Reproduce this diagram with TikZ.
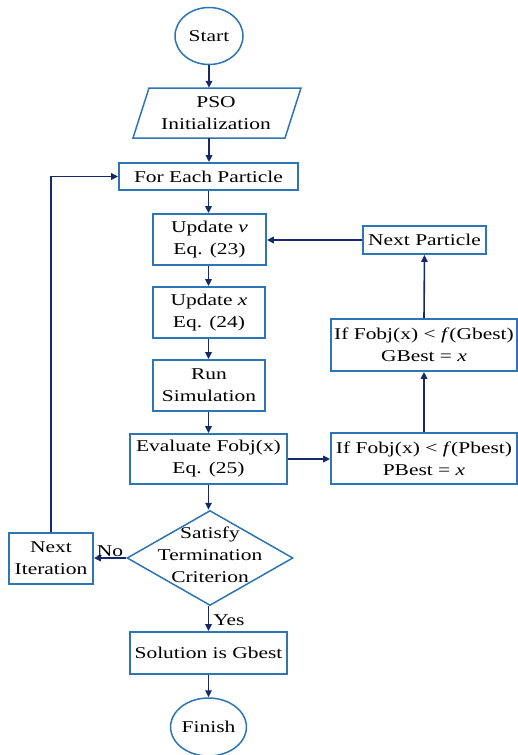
\documentclass[tikz,border=0pt]{standalone}
\usepackage{fontspec}
\setmainfont{Liberation Serif}[FakeStretch=1.3]
\usetikzlibrary{shapes.geometric,arrows.meta}
\definecolor{boxblue}{RGB}{46,117,182}
\definecolor{navy}{RGB}{22,42,105}
\begin{document}
\begin{tikzpicture}[x=1pt,y=-1pt,
  every node/.style={font=\fontsize{16.5}{22}\selectfont, inner sep=0pt, align=center},
  box/.style={draw=boxblue, line width=1.8pt, fill=white, rectangle},
  term/.style={draw=boxblue, line width=1.5pt, fill=white, ellipse},
  flow/.style={draw=navy, line width=1.6pt, -{Triangle[length=7pt,width=6.5pt]}},
  lab/.style={font=\fontsize{16.5}{20}\selectfont}]
\useasboundingbox (0,0) rectangle (518,755);

% terminals
\node[term, minimum width=68, minimum height=57] (start) at (209,36) {Start};
\node[term, minimum width=69, minimum height=58] (fin) at (208.5,727) {Finish};

% parallelogram
\draw[boxblue, line width=1.5pt, fill=white] (149,88) -- (301,88) -- (285,138) -- (133,138) -- cycle;
\node[minimum width=150, minimum height=50] (pso) at (216,113) {PSO\\Initialization};

% process boxes
\node[box, minimum width=179, minimum height=27] (fep) at (208.5,176.5) {For Each Particle};
\node[box, minimum width=113, minimum height=51] (upv) at (209.5,239.5) {Update \textit{v}\\Eq. (23)};
\node[box, minimum width=112, minimum height=51] (upx) at (209,312.5) {Update \textit{x}\\Eq. (24)};
\node[box, minimum width=112, minimum height=51] (run) at (209,385.5) {Run\\Simulation};
\node[box, minimum width=157, minimum height=50] (eval) at (208.5,459) {Evaluate Fobj(x)\\Eq. (25)};
\node[box, minimum width=186, minimum height=51] (pb) at (424,458.5) {If Fobj(x) {<} \textit{f}(Pbest)\\PBest = \textit{x}};
\node[box, minimum width=186, minimum height=52] (gb) at (424,345) {If Fobj(x) {<} \textit{f}(Gbest)\\GBest = \textit{x}};
\node[box, minimum width=123, minimum height=28] (np) at (424.5,240) {Next Particle};

% decision
\node[draw=boxblue, line width=1.5pt, fill=white, diamond, minimum width=166, minimum height=95] (dia) at (210,558) {};
\node (diatext) at (210,555) {Satisfy\\Termination\\Criterion};

\node[box, minimum width=84, minimum height=51] (ni) at (51,558.5) {Next\\Iteration};
\node[box, minimum width=157, minimum height=42] (sol) at (208.5,653) {Solution is Gbest};

% connectors
\draw[flow] (start.south) -- (start.south |- pso.north);
\draw[flow] (start.south |- pso.south) -- (start.south |- fep.north);
\draw[flow] (fep.south) -- (fep.south |- upv.north);
\draw[flow] (fep.south |- upv.south) -- (fep.south |- upx.north);
\draw[flow] (fep.south |- upx.south) -- (fep.south |- run.north);
\draw[flow] (fep.south |- run.south) -- (fep.south |- eval.north);
\draw[flow] (fep.south |- eval.south) -- (fep.south |- dia.north);
\draw[flow] (fep.south |- dia.south) -- node[lab, right, xshift=4pt, yshift=-1pt] (yes) {Yes} (fep.south |- sol.north);
\draw[flow] (sol.south) -- (sol.south |- fin.north);
\draw[flow] (dia.west) -- node[lab, above, yshift=1pt] (no) {No} (ni.east |- dia.west);
\draw[flow] (ni.north) |- (fep.west);
\draw[flow] (eval.east) -- (pb.west |- eval.east);
\draw[flow] (pb.north) -- (gb.south);
\draw[flow] (gb.north) -- (np.south);
\draw[flow] (np.west) -- (upv.east |- np.west);
\end{tikzpicture}
\end{document}
